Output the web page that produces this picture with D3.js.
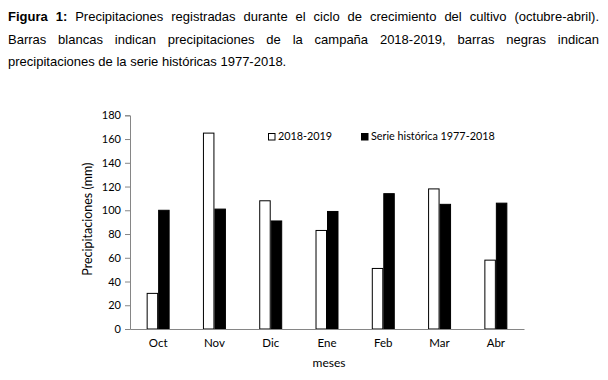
<!DOCTYPE html>
<html><head><meta charset="utf-8">
<script src="https://cdn.jsdelivr.net/npm/d3@7"></script>
<style>
body{margin:0;background:#fff;width:608px;height:380px;overflow:hidden;}
#cap{position:absolute;left:8px;top:6px;width:591px;font-family:"Liberation Sans",Arial,sans-serif;font-size:13px;color:#000;}
#cap div{line-height:22.5px;height:22.5px;white-space:nowrap;}
#cap .j{text-align:justify;text-align-last:justify;white-space:normal;}
svg{position:absolute;left:0;top:0;}
</style></head><body>
<div id="cap">
<div class="j"><b>Figura 1:</b> Precipitaciones registradas durante el ciclo de crecimiento del cultivo (octubre-abril).</div>
<div class="j">Barras blancas indican precipitaciones de la campaña 2018-2019, barras negras indican</div>
<div>precipitaciones de la serie históricas 1977-2018.</div>
</div>
<svg id="c" width="608" height="380"></svg>
<script>
const months = ["Oct","Nov","Dic","Ene","Feb","Mar","Abr"];
const seriesNames = ["2018-2019","Serie histórica 1977-2018"];
const campaign = [30,165,108,83,51,118,58];
const historic = [100,101,91,99,114,105,106];
const yTicks = [0,20,40,60,80,100,120,140,160,180];

const svg = d3.select("#c");
const font = "Lato, 'Open Sans', sans-serif";
const x0 = 130, x1 = 524, yTop = 115.3, yBot = 329;
const x = d3.scaleBand().domain(months).range([x0,x1]).paddingInner(0).paddingOuter(0);
const xs = d3.scaleBand().domain(seriesNames).range([0,x.bandwidth()]).paddingInner(0).paddingOuter(1.45);
const y = d3.scaleLinear().domain([0,180]).range([yBot,yTop]);
const axisColor = "#868686";

// y axis
const ya = svg.append("g").attr("transform",`translate(${x0},0)`).call(d3.axisLeft(y).tickValues(yTicks).tickSize(5).tickPadding(4));
ya.select(".domain").attr("stroke",axisColor);
ya.selectAll(".tick line").attr("stroke",axisColor);
ya.selectAll("text").attr("font-family",font).attr("font-size","11px").attr("fill","#000");

const data = months.map((m,i)=>({m, vals:[campaign[i],historic[i]]}));
const g = svg.append("g");
data.forEach(d=>{
  d.vals.forEach((v,j)=>{
    g.append("rect")
      .attr("x", x(d.m)+xs(seriesNames[j])+0.5)
      .attr("y", y(v))
      .attr("width", xs.bandwidth()-1)
      .attr("height", yBot - y(v))
      .attr("fill", j===0 ? "#fff" : "#000")
      .attr("stroke","#000").attr("stroke-width",1);
  });
});

// x axis
const xa = svg.append("g").attr("transform",`translate(0,${yBot})`).call(d3.axisBottom(x).tickSize(0).tickPadding(10));
xa.select(".domain").attr("stroke",axisColor);
xa.selectAll("text").attr("font-family",font).attr("font-size","11.5px").attr("fill","#000");

// titles
svg.append("text").attr("x",(x0+x1)/2 + 2).attr("y",367).attr("text-anchor","middle")
  .attr("font-family",font).attr("font-size","12px").text("meses");
svg.append("text").attr("transform",`translate(92,${(yTop+yBot)/2 - 3}) rotate(-90)`).attr("text-anchor","middle")
  .attr("font-family",font).attr("font-size","12.5px").text("Precipitaciones (mm)");

// legend
const legX = [268,361];
seriesNames.forEach((s,j)=>{
  svg.append("rect").attr("x",legX[j]+0.5).attr("y",133.5).attr("width",6.5).attr("height",6.5)
    .attr("fill", j===0?"#fff":"#000").attr("stroke","#000");
  svg.append("text").attr("x",legX[j]+10).attr("y",140).attr("font-family",font).attr("font-size","10.8px").text(s);
});
</script>
</body></html>
